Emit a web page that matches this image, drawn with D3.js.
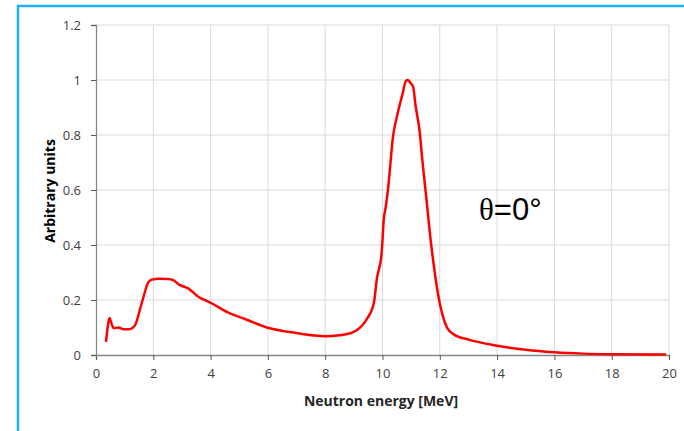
<!DOCTYPE html>
<html>
<head>
    <title>Neutron energy spectrum</title>
    <script src="https://cdn.jsdelivr.net/npm/d3@7"></script>
    <style>
        body { margin: 0; background: #fff; }
        .tick text { font-family: "Open Sans", "Liberation Sans", sans-serif; font-size: 13px; fill: #404040; }
    </style>
</head>
<body>
<svg id="chart" width="684" height="431"></svg>
<script>
    // spectrum
    const energy = [0.35, 0.42, 0.47, 0.54, 0.62, 0.78, 0.96, 1.15, 1.27, 1.37, 1.6, 1.83, 1.95, 2.2, 2.5, 2.7, 2.9, 3.2, 3.6, 4.0,
        4.6, 5.2, 6.0, 7.0, 7.6, 8.0, 8.5, 8.9, 9.1, 9.45, 9.7, 9.8, 9.97, 10.05, 10.1, 10.19, 10.28, 10.35, 10.51, 10.69,
        10.82, 10.88, 10.97, 11.07, 11.15, 11.3, 11.38, 11.53, 11.7, 11.76, 11.94, 12.25, 12.5, 13.0, 14.0, 15.0, 16.0, 17.0, 18.0, 19.9];
    const intensity = [0.048, 0.11, 0.135, 0.115, 0.097, 0.100, 0.094, 0.094, 0.098, 0.11, 0.19, 0.265, 0.274, 0.277, 0.276, 0.272, 0.256, 0.243, 0.21, 0.19,
        0.155, 0.131, 0.099, 0.080, 0.071, 0.068, 0.072, 0.080, 0.090, 0.130, 0.19, 0.275, 0.37, 0.50, 0.53, 0.60, 0.70, 0.78, 0.87, 0.945,
        0.997, 1.0, 0.99, 0.975, 0.91, 0.81, 0.72, 0.57, 0.40, 0.35, 0.22, 0.10, 0.074, 0.056, 0.034, 0.019, 0.010, 0.005, 0.003, 0.002];
    const xTicks = [0, 2, 4, 6, 8, 10, 12, 14, 16, 18, 20];
    const yTicks = [0, 0.2, 0.4, 0.6, 0.8, 1, 1.2];

    const svg = d3.select('#chart');
    const plotLeft = 96, plotRight = 669, plotTop = 25, plotBottom = 355;

    const x = d3.scaleLinear().domain([0, 20]).range([plotLeft, plotRight]);
    const y = d3.scaleLinear().domain([0, 1.2]).range([plotBottom, plotTop]);

    // blue frame round the chart
    svg.append("rect")
        .attr("x", 18).attr("y", 6)
        .attr("width", 700).attr("height", 460)
        .attr("fill", "none")
        .attr("stroke", "#1fb4ef")
        .attr("stroke-width", 2.5);

    // grid
    svg.append("g").selectAll("line").data(xTicks.slice(1)).join("line")
        .attr("x1", d => x(d)).attr("x2", d => x(d))
        .attr("y1", plotTop).attr("y2", plotBottom)
        .attr("stroke", "#d9d9d9").attr("stroke-width", 1);
    svg.append("g").selectAll("line").data(yTicks.slice(1)).join("line")
        .attr("x1", plotLeft).attr("x2", plotRight)
        .attr("y1", d => y(d)).attr("y2", d => y(d))
        .attr("stroke", "#d9d9d9").attr("stroke-width", 1);

    const xAxis = svg.append("g")
        .attr("transform", `translate(0,${plotBottom})`)
        .call(d3.axisBottom(x).tickValues(xTicks).tickSize(5).tickPadding(9).tickFormat(d3.format("d")));
    const yAxis = svg.append("g")
        .attr("transform", `translate(${plotLeft},0)`)
        .call(d3.axisLeft(y).tickValues(yTicks).tickSize(5).tickPadding(10).tickFormat(d => d3.format("")(d)));
    [xAxis, yAxis].forEach(a => {
        a.select(".domain").attr("stroke", "#868686").attr("stroke-width", 1.3);
        a.selectAll(".tick line").attr("stroke", "#595959");
    });

    // spectrum
    const line = d3.line()
        .x((d, i) => x(energy[i]))
        .y(d => y(d))
        .curve(d3.curveMonotoneX);
    svg.append("path")
        .datum(intensity)
        .attr("d", line)
        .attr("fill", "none")
        .attr("stroke", "#ff0000")
        .attr("stroke-width", 2.5)
        .attr("stroke-linejoin", "round");

    // axis titles
    svg.append("text")
        .attr("x", 381).attr("y", 406)
        .attr("text-anchor", "middle")
        .style("font-family", "'Open Sans', 'Liberation Sans', sans-serif")
        .style("font-size", "14px").style("font-weight", "bold").attr("fill", "#262626")
        .text("Neutron energy [MeV]");
    svg.append("text")
        .attr("transform", `translate(55,191) rotate(-90)`)
        .attr("text-anchor", "middle")
        .style("font-family", "'Open Sans', 'Liberation Sans', sans-serif")
        .style("font-size", "14px").style("font-weight", "bold").attr("fill", "#000")
        .text("Arbitrary units");

    // angle label
    const label = svg.append("text")
        .attr("x", 479).attr("y", 220)
        .style("font-size", "31px").attr("fill", "#000");
    label.append("tspan").style("font-family", "'Liberation Serif', serif").text("θ");
    label.append("tspan").style("font-family", "'Liberation Sans', sans-serif").text("=0°");
</script>
</body>
</html>
